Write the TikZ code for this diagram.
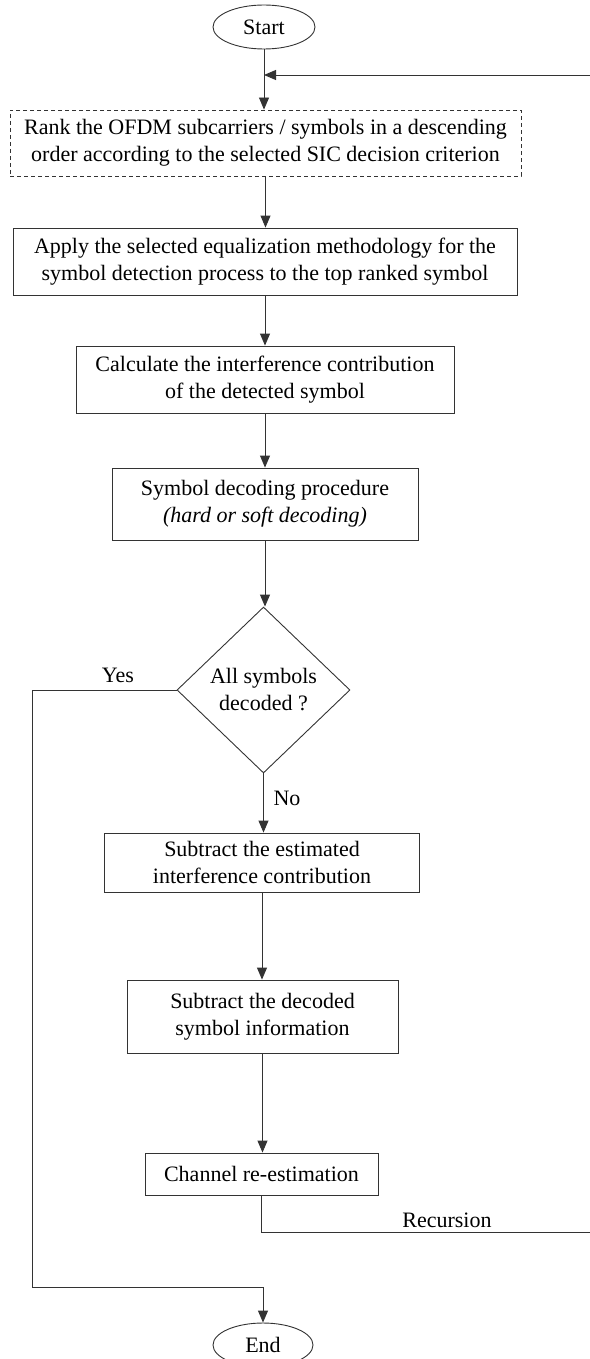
\documentclass[tikz,border=0pt]{standalone}
\usepackage{fontspec}
\setmainfont{Liberation Serif}
\usetikzlibrary{arrows.meta,shapes.geometric}
\begin{document}
\begin{tikzpicture}[x=1pt,y=-1pt,
  font=\fontsize{22}{27}\selectfont,
  every path/.style={line width=0.9pt},
  proc/.style={draw=black!80, rectangle, align=center, inner sep=0pt},
  term/.style={draw=black!80, ellipse, inner sep=0pt},
  decision/.style={draw=black!80, diamond, align=center, inner sep=0pt},
  flow/.style={draw=black!80, -{Triangle[length=12pt,width=10pt]}},
  wire/.style={draw=black!80},
  lab/.style={inner sep=0pt}]
\useasboundingbox (0,0) rectangle (589,1359);

% process chain
\node[term, minimum width=102pt, minimum height=44pt] (start) at (264,27) {Start};
\node[proc, dash pattern=on 4pt off 3pt, minimum width=511pt, minimum height=66pt] (rank) at (265.5,143)
  {Rank the OFDM subcarriers / symbols in a descending\\order according to the selected SIC decision criterion};
\node[proc, minimum width=504pt, minimum height=67pt] (equal) at (265,261.5)
  {Apply the selected equalization methodology for the\\symbol detection process to the top ranked symbol};
\node[proc, minimum width=378pt, minimum height=67pt] (calc) at (265,379.5)
  {Calculate the interference contribution\\of the detected symbol};
\node[proc, minimum width=306pt, minimum height=72pt] (decode) at (265,504)
  {Symbol decoding procedure\\\textit{(hard or soft decoding)}};
\node[decision, minimum width=173pt, minimum height=166pt] (done) at (263.5,690)
  {All symbols\\decoded ?};
\node[proc, minimum width=315pt, minimum height=59pt] (subint) at (262,862.5)
  {Subtract the estimated\\interference contribution};
\node[proc, minimum width=271pt, minimum height=73pt] (subsym) at (262.5,1016.5)
  {Subtract the decoded\\symbol information};
\node[proc, minimum width=233pt, minimum height=42pt] (chan) at (261.5,1174)
  {Channel re-estimation};
\node[term, minimum width=100pt, minimum height=44pt] (end) at (263,1345) {End};

% loop entry point and routing corners
\coordinate (join) at (264,75);
\coordinate (recR) at (591,1232);
\coordinate (recT) at (591,75);
\coordinate (yesL) at (32,690);
\coordinate (yesB) at (32,1287);

% labels
\node[lab] (yes) at (118,675) {Yes};
\node[lab] (no) at (287,798) {No};
\node[lab] (rec) at (447,1220) {Recursion};

% connectors
\path[wire] (start.south) -- (join);
\path[flow] (join) -- (join |- rank.north);
\path[flow] (rank.south) -- (rank.south |- equal.north);
\path[flow] (equal.south) -- (equal.south |- calc.north);
\path[flow] (calc.south) -- (calc.south |- decode.north);
\path[flow] (decode.south) -- (decode.south |- done.north);
\path[flow] (done.south) -- (done.south |- subint.north);
\path[flow] (subint.south) -- (subint.south |- subsym.north);
\path[flow] (subsym.south) -- (subsym.south |- chan.north);
\path[flow] (chan.south) |- (recR) -- (recT) -- (join);
\path[flow] (done.west) -- (yesL) -- (yesB) -| (end.north);
\end{tikzpicture}
\end{document}
